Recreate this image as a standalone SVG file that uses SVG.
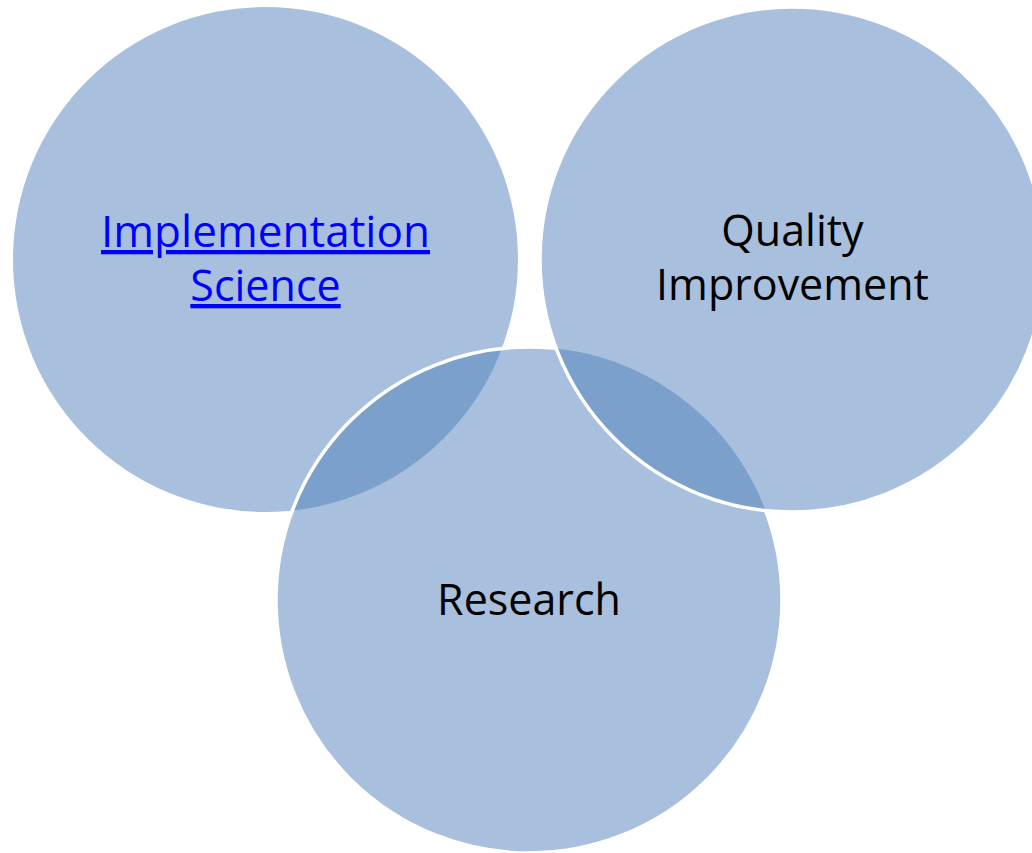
<svg xmlns="http://www.w3.org/2000/svg" width="1032" height="853" viewBox="0 0 1032 853">
<style>
.fill{fill:#A8C0DD}
.lens{fill:#7BA0CC}
.edge{fill:none;stroke:#FFFFFF;stroke-width:3.5}
.lbl{font-family:"Open Sans","Liberation Sans",sans-serif;font-size:43px;text-anchor:middle;fill:#000000}
.link{fill:#0000FF;text-decoration:underline}
</style>
<defs>
<clipPath id="clipLeft"><circle cx="265.5" cy="259.5" r="252.5"/></clipPath>
<clipPath id="clipBottom"><circle cx="529" cy="600" r="253"/></clipPath>
</defs>
<rect width="1032" height="853" fill="#FFFFFF"/>
<g id="node-implementation">
<circle class="fill" cx="265.5" cy="259.5" r="252.5"/>
</g>
<g id="node-research">
<circle class="fill" cx="529" cy="600" r="253"/>
<circle class="lens" cx="529" cy="600" r="253" clip-path="url(#clipLeft)"/>
<circle class="edge" cx="529" cy="600" r="253"/>
</g>
<g id="node-quality">
<circle class="fill" cx="792.5" cy="259.5" r="252.5"/>
<circle class="lens" cx="792.5" cy="259.5" r="252.5" clip-path="url(#clipBottom)"/>
<circle class="edge" cx="792.5" cy="259.5" r="252.5"/>
</g>
<g id="connectors"></g>
<g id="labels">
<text class="lbl link" x="265.5" y="247" textLength="329" lengthAdjust="spacingAndGlyphs">Implementation</text>
<text class="lbl link" x="265.5" y="301">Science</text>
<text class="lbl" x="792.5" y="246">Quality</text>
<text class="lbl" x="792.5" y="300">Improvement</text>
<text class="lbl" x="529" y="615">Research</text>
</g>
</svg>
